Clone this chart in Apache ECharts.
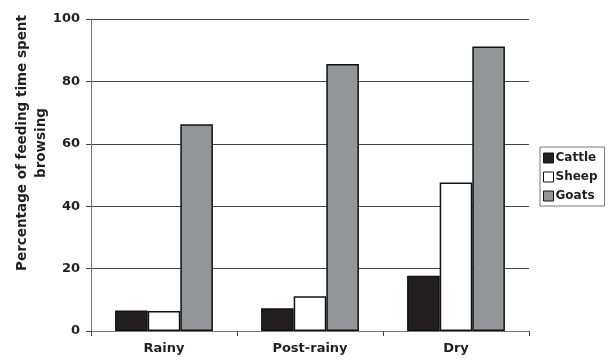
<!DOCTYPE html>
<html><head><meta charset="utf-8">
<script src="https://cdn.jsdelivr.net/npm/echarts@6/dist/echarts.min.js"></script>
<style>html,body{margin:0;padding:0;background:#fff}#c{width:608px;height:363px}</style>
</head><body><div id="c"></div>
<script>
const categories = ['Rainy', 'Post-rainy', 'Dry'];
const cattle = [6.6, 7.3, 17.7];
const sheep = [6.4, 11.1, 47.6];
const goats = [66.3, 85.6, 91.2];
const yTicks = [0, 20, 40, 60, 80, 100];

const chart = echarts.init(document.getElementById('c'), null, {renderer: 'canvas'});
const font = 'DejaVu Sans, sans-serif';
function bar(name, data, color) {
  return {
    name, type: 'bar', data,
    barGap: '0%', barCategoryGap: '33%',
    itemStyle: {color, borderColor: '#111', borderWidth: 1.5},
    animation: false
  };
}
chart.setOption({
  animation: false,
  grid: {left: 91, right: 79, top: 19, bottom: 32},
  xAxis: {
    type: 'category', data: categories,
    axisLine: {lineStyle: {color: '#777', width: 1}},
    axisTick: {show: true, length: 5, lineStyle: {color: '#444'}},
    axisLabel: {fontFamily: font, fontWeight: 'bold', fontSize: 13, color: '#231f20', margin: 11}
  },
  yAxis: {
    type: 'value', min: yTicks[0], max: yTicks[yTicks.length-1], interval: 20,
    axisLine: {show: true, lineStyle: {color: '#777', width: 1}},
    axisTick: {show: true, length: 5, inside: false, lineStyle: {color: '#444'}},
    splitLine: {lineStyle: {color: '#444', width: 1}},
    axisLabel: {fontFamily: font, fontWeight: 'bold', fontSize: 13, color: '#231f20', margin: 11}
  },
  legend: {
    orient: 'vertical', left: 540, top: 147,
    padding: [4, 7, 3, 3],
    borderColor: '#777', borderWidth: 1,
    itemWidth: 10, itemHeight: 10, itemGap: 5,
    icon: 'rect',
    textStyle: {fontFamily: font, fontWeight: 'bold', fontSize: 12, color: '#231f20', lineHeight: 14, padding: [0,0,0,-3]},
    data: [
      {name: 'Cattle', itemStyle: {borderColor: '#111', borderWidth: 1}},
      {name: 'Sheep', itemStyle: {borderColor: '#111', borderWidth: 1}},
      {name: 'Goats', itemStyle: {borderColor: '#111', borderWidth: 1}}
    ]
  },
  graphic: [{
    type: 'text', x: 32, y: 143, rotation: Math.PI / 2,
    style: {
      text: 'Percentage of feeding time spent\nbrowsing',
      fontFamily: font, fontWeight: 'bold', fontSize: 13.5, fill: '#231f20',
      align: 'center', verticalAlign: 'middle', lineHeight: 19
    }
  }],
  series: [
    bar('Cattle', cattle, '#231f20'),
    bar('Sheep', sheep, '#ffffff'),
    bar('Goats', goats, '#939598')
  ]
});
</script></body></html>
